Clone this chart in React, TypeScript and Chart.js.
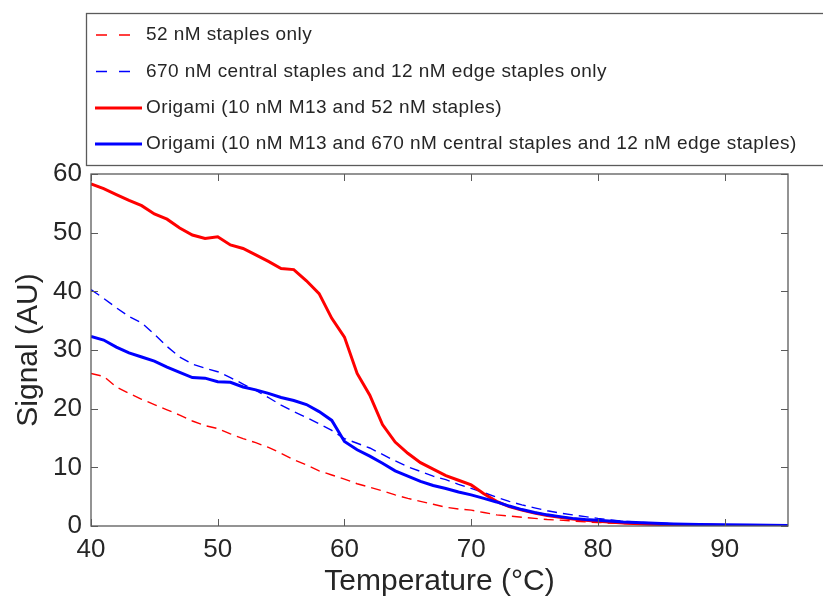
import React, { useEffect, useRef } from "react";
import { Chart, registerables } from "chart.js";

Chart.register(...registerables);

// Temperature (°C)
const temps = [
  40, 41, 42, 43, 44, 45, 46, 47, 48, 49, 50, 51, 52, 53, 54, 55, 56, 57, 58, 59,
  60, 61, 62, 63, 64, 65, 66, 67, 68, 69, 70, 71, 72, 73, 74, 75, 76, 77, 78, 79,
  80, 82, 84, 86, 88, 90, 92, 95,
];

// 52 nM staples only (red dashed)
const staples52Only = [
  26.0, 25.5, 23.7, 22.6, 21.6, 20.7, 19.8, 18.9, 17.9, 17.1, 16.6, 15.7, 14.9, 14.2, 13.4, 12.4, 11.3, 10.4, 9.4, 8.7,
  8.0, 7.2, 6.6, 6.0, 5.3, 4.7, 4.2, 3.7, 3.2, 2.9, 2.7, 2.3, 1.9, 1.7, 1.5, 1.3, 1.1, 1.0, 0.85, 0.7,
  0.6, 0.4, 0.3, 0.2, 0.15, 0.1, 0.05, 0.03,
];

// 670 nM central staples and 12 nM edge staples only (blue dashed)
const staples670Only = [
  40.3, 38.8, 37.2, 35.7, 34.6, 32.7, 30.6, 28.8, 27.6, 26.9, 26.3, 25.3, 24.2, 23.1, 21.9, 20.6, 19.5, 18.5, 17.4, 16.3,
  14.9, 14.1, 13.3, 12.2, 11.1, 10.1, 9.3, 8.5, 7.9, 7.1, 6.4, 5.7, 4.9, 4.2, 3.6, 3.1, 2.6, 2.2, 1.9, 1.6,
  1.3, 0.8, 0.55, 0.4, 0.3, 0.2, 0.15, 0.1,
];

// Origami (10 nM M13 and 52 nM staples) (red solid)
const origami52 = [
  58.3, 57.5, 56.5, 55.5, 54.6, 53.2, 52.3, 50.8, 49.6, 49.0, 49.3, 47.9, 47.3, 46.2, 45.1, 43.9, 43.7, 41.8, 39.6, 35.4,
  32.2, 26.0, 22.3, 17.3, 14.3, 12.4, 10.8, 9.7, 8.6, 7.8, 7.0, 5.5, 4.2, 3.3, 2.7, 2.2, 1.8, 1.5, 1.2, 1.0,
  0.8, 0.5, 0.3, 0.2, 0.15, 0.1, 0.05, 0.0,
];

// Origami (10 nM M13 and 670 nM central staples and 12 nM edge staples) (blue solid)
const origami670 = [
  32.3, 31.7, 30.5, 29.5, 28.8, 28.1, 27.1, 26.2, 25.3, 25.2, 24.6, 24.5, 23.7, 23.2, 22.6, 21.9, 21.4, 20.7, 19.5, 18.0,
  14.4, 13.0, 11.9, 10.7, 9.4, 8.5, 7.6, 6.9, 6.4, 5.8, 5.3, 4.7, 4.1, 3.4, 2.8, 2.3, 1.9, 1.6, 1.3, 1.1,
  1.0, 0.7, 0.5, 0.35, 0.25, 0.2, 0.15, 0.1,
];

const seriesLabels = [
  "52 nM staples only",
  "670 nM central staples and 12 nM edge staples only",
  "Origami (10 nM M13 and 52 nM staples)",
  "Origami (10 nM M13 and 670 nM central staples and 12 nM edge staples)",
];

const xTicks = [40, 50, 60, 70, 80, 90];
const yTicks = [0, 10, 20, 30, 40, 50, 60];

const FONT = "'Liberation Sans', Helvetica, Arial, sans-serif";
const TEXT = "#262626";
const AXIS = "#5a5a5a";

const toXY = (vals: number[]) => vals.map((v, i) => ({ x: temps[i], y: v }));

const boxPlugin = {
  id: "matlabBox",
  afterDatasetsDraw(chart: any) {
    const { ctx, chartArea, scales } = chart;
    const { left, right, top, bottom } = chartArea;
    const tl = 7;
    ctx.save();
    ctx.strokeStyle = AXIS;
    ctx.lineWidth = 1.3;
    ctx.strokeRect(left, top, right - left, bottom - top);
    ctx.beginPath();
    xTicks.forEach((v) => {
      const px = Math.round(scales.x.getPixelForValue(v)) + 0.5;
      ctx.moveTo(px, bottom);
      ctx.lineTo(px, bottom - tl);
      ctx.moveTo(px, top);
      ctx.lineTo(px, top + tl);
    });
    yTicks.forEach((v) => {
      const py = Math.round(scales.y.getPixelForValue(v)) + 0.5;
      ctx.moveTo(left, py);
      ctx.lineTo(left + tl, py);
      ctx.moveTo(right, py);
      ctx.lineTo(right - tl, py);
    });
    ctx.lineWidth = 1;
    ctx.stroke();
    ctx.restore();
  },
};

const legendPlugin = {
  id: "matlabLegend",
  afterDraw(chart: any) {
    const { ctx } = chart;
    const bx = 86.5;
    const by = 13.5;
    const bh = 152;
    ctx.save();
    ctx.fillStyle = "#ffffff";
    ctx.fillRect(bx, by, 900, bh);
    ctx.strokeStyle = AXIS;
    ctx.lineWidth = 1.3;
    ctx.strokeRect(bx, by, 900, bh);
    const rows = [35, 71.5, 108, 144];
    chart.data.datasets.forEach((ds: any, i: number) => {
      const y = rows[i];
      ctx.beginPath();
      ctx.strokeStyle = ds.borderColor;
      ctx.lineWidth = ds.borderWidth;
      if (ds.borderDash && ds.borderDash.length) {
        ctx.setLineDash([11, 12]);
        ctx.moveTo(96, y);
        ctx.lineTo(134, y);
      } else {
        ctx.setLineDash([]);
        ctx.moveTo(95, y);
        ctx.lineTo(142, y);
      }
      ctx.stroke();
      ctx.setLineDash([]);
      ctx.fillStyle = TEXT;
      ctx.font = `19px ${FONT}`;
      (ctx as any).letterSpacing = "0.43px";
      ctx.textBaseline = "middle";
      ctx.textAlign = "left";
      ctx.fillText(ds.label, 146, y);
      (ctx as any).letterSpacing = "0px";
    });
    ctx.restore();
  },
};

export default function App() {
  const canvasRef = useRef<HTMLCanvasElement | null>(null);

  useEffect(() => {
    document.body.style.margin = "0";
    const canvas = canvasRef.current;
    if (!canvas) return;
    const chart = new Chart(canvas, {
      type: "line",
      data: {
        datasets: [
          {
            label: seriesLabels[0],
            data: toXY(staples52Only),
            borderColor: "#ff0000",
            borderWidth: 1.4,
            borderDash: [10, 6],
            pointRadius: 0,
            tension: 0,
            order: 3,
          },
          {
            label: seriesLabels[1],
            data: toXY(staples670Only),
            borderColor: "#0000ff",
            borderWidth: 1.4,
            borderDash: [10, 6],
            pointRadius: 0,
            tension: 0,
            order: 2,
          },
          {
            label: seriesLabels[2],
            data: toXY(origami52),
            borderColor: "#ff0000",
            borderWidth: 3,
            pointRadius: 0,
            tension: 0,
            order: 1,
          },
          {
            label: seriesLabels[3],
            data: toXY(origami670),
            borderColor: "#0000ff",
            borderWidth: 3,
            pointRadius: 0,
            tension: 0,
            order: 0,
          },
        ],
      },
      options: {
        animation: false,
        responsive: true,
        maintainAspectRatio: false,
        layout: { padding: { top: 174, right: 35, left: 0, bottom: 0 } },
        plugins: {
          legend: { display: false },
          tooltip: { enabled: false },
        },
        scales: {
          x: {
            type: "linear",
            min: 40,
            max: 95,
            afterBuildTicks: (s: any) => {
              s.ticks = xTicks.map((v) => ({ value: v }));
            },
            afterFit: (s: any) => {
              s.height = 74;
            },
            grid: { display: false, drawTicks: false },
            border: { display: false },
            ticks: {
              color: TEXT,
              font: { family: FONT, size: 26 },
              padding: 8,
              maxRotation: 0,
            },
            title: {
              display: true,
              text: "Temperature (°C)",
              color: TEXT,
              font: { family: FONT, size: 30 },
              padding: { top: 0, bottom: 0 },
            },
          },
          y: {
            type: "linear",
            min: 0,
            max: 60,
            afterBuildTicks: (s: any) => {
              s.ticks = yTicks.map((v) => ({ value: v }));
            },
            afterFit: (s: any) => {
              s.width = 91;
            },
            grid: { display: false, drawTicks: false },
            border: { display: false },
            ticks: {
              color: TEXT,
              font: { family: FONT, size: 26 },
              padding: 9,
            },
            title: {
              display: true,
              text: "Signal (AU)",
              color: TEXT,
              font: { family: FONT, size: 30 },
              padding: { top: 11, bottom: 0 },
            },
          },
        },
      },
      plugins: [boxPlugin, legendPlugin],
    });
    return () => chart.destroy();
  }, []);

  return (
    <div style={{ position: "absolute", left: 0, top: 0, width: 823, height: 600 }}>
      <canvas ref={canvasRef} />
    </div>
  );
}
